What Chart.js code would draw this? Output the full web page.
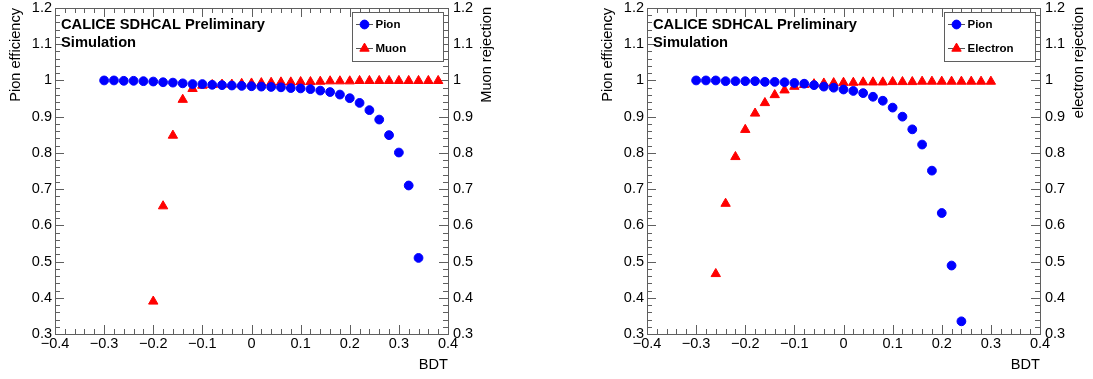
<!DOCTYPE html>
<html>
<head>
<meta charset="utf-8">
<script src="https://cdn.jsdelivr.net/npm/chart.js@4.4.0/dist/chart.umd.min.js"></script>
<style>
html,body{margin:0;padding:0;background:#fff;}
#wrap{position:relative;width:1093px;height:379px;overflow:hidden;background:#fff;}
#wrap canvas{position:absolute;top:0;}
</style>
</head>
<body>
<div id="wrap">
<canvas id="cL" width="501" height="379" style="left:0px"></canvas>
<canvas id="cR" width="501" height="379" style="left:592px"></canvas>
</div>
<script>
// ---------- DATA ----------
const xTickValues = [-0.4, -0.3, -0.2, -0.1, 0, 0.1, 0.2, 0.3, 0.4];
const xTickLabels = ['\u22120.4', '\u22120.3', '\u22120.2', '\u22120.1', '0', '0.1', '0.2', '0.3', '0.4'];
const yTickValues = [0.3, 0.4, 0.5, 0.6, 0.7, 0.8, 0.9, 1.0, 1.1, 1.2];
const yTickLabels = ['0.3', '0.4', '0.5', '0.6', '0.7', '0.8', '0.9', '1', '1.1', '1.2'];

// Left panel: pion vs muon
const bdtPionLeft = [-0.30,-0.28,-0.26,-0.24,-0.22,-0.20,-0.18,-0.16,-0.14,-0.12,-0.10,-0.08,-0.06,-0.04,-0.02,0.00,
                     0.02,0.04,0.06,0.08,0.10,0.12,0.14,0.16,0.18,0.20,0.22,0.24,0.26,0.28,0.30,0.32,0.34];
const pionEffLeft = [1.000,1.000,0.999,0.999,0.998,0.997,0.995,0.994,0.992,0.990,0.990,0.988,0.987,0.986,0.985,0.984,
                     0.983,0.982,0.981,0.979,0.978,0.976,0.972,0.968,0.961,0.951,0.938,0.918,0.892,0.849,0.801,0.710,0.510];
const bdtMuon = [-0.20,-0.18,-0.16,-0.14,-0.12,-0.10,-0.08,-0.06,-0.04,-0.02,0.00,0.02,0.04,0.06,0.08,
                 0.10,0.12,0.14,0.16,0.18,0.20,0.22,0.24,0.26,0.28,0.30,0.32,0.34,0.36,0.38];
const muonRejection = [0.390,0.653,0.848,0.947,0.977,0.986,0.988,0.989,0.989,0.991,0.992,0.993,0.994,0.995,0.995,
                       0.996,0.996,0.997,0.998,0.998,0.998,0.999,0.999,0.999,0.999,0.999,0.999,0.999,0.999,0.999];

// Right panel: pion vs electron
const bdtPionRight = [-0.30,-0.28,-0.26,-0.24,-0.22,-0.20,-0.18,-0.16,-0.14,-0.12,-0.10,-0.08,-0.06,-0.04,
                      -0.02,0.00,0.02,0.04,0.06,0.08,0.10,0.12,0.14,0.16,0.18,0.20,0.22,0.24];
const pionEffRight = [1.000,1.000,1.000,0.998,0.998,0.998,0.998,0.996,0.996,0.995,0.993,0.991,0.987,0.983,
                      0.980,0.975,0.971,0.965,0.955,0.944,0.925,0.900,0.865,0.823,0.751,0.634,0.489,0.335];
const bdtElectron = [-0.26,-0.24,-0.22,-0.20,-0.18,-0.16,-0.14,-0.12,-0.10,-0.08,-0.06,-0.04,-0.02,0.00,0.02,
                     0.04,0.06,0.08,0.10,0.12,0.14,0.16,0.18,0.20,0.22,0.24,0.26,0.28,0.30];
const electronRejection = [0.466,0.660,0.789,0.864,0.909,0.938,0.960,0.973,0.983,0.988,0.990,0.992,0.993,0.994,0.994,
                           0.995,0.995,0.995,0.996,0.996,0.996,0.997,0.997,0.997,0.997,0.997,0.997,0.997,0.997];

const leftTitleLines = ['CALICE SDHCAL Preliminary', 'Simulation'];
const rightTitleLines = ['CALICE SDHCAL Preliminary', 'Simulation'];

// ---------- STYLE ----------
const FONT = "'Liberation Sans', Arial, Helvetica, sans-serif";
const FRAME = '#5f5f5f';
const BLUE = '#0000ff';
const RED = '#ff0000';
Chart.defaults.font.family = FONT;
Chart.defaults.color = '#000';

function pts(xs, ys) { return xs.map((x, i) => ({x: x, y: ys[i]})); }

const rootFrame = {
  id: 'rootFrame',
  beforeDatasetsDraw(chart) {
    const {ctx, chartArea: a, scales} = chart;
    const xs = scales.x, ys = scales.y;
    ctx.save();
    ctx.strokeStyle = FRAME;
    ctx.lineWidth = 1;
    ctx.beginPath();
    for (let k = 0; k <= 40; k++) {
      const v = xs.min + k * 0.02;
      const px = Math.round(xs.getPixelForValue(v)) + 0.5;
      const len = (k % 5 === 0) ? 9 : 5;
      ctx.moveTo(px, a.bottom); ctx.lineTo(px, a.bottom - len);
      ctx.moveTo(px, a.top); ctx.lineTo(px, a.top + len);
    }
    for (let k = 0; k <= 45; k++) {
      const v = ys.min + k * 0.02;
      const py = Math.round(ys.getPixelForValue(v)) + 0.5;
      const len = (k % 5 === 0) ? 9 : 5;
      ctx.moveTo(a.left, py); ctx.lineTo(a.left + len, py);
      ctx.moveTo(a.right, py); ctx.lineTo(a.right - len, py);
    }
    ctx.stroke();
    ctx.strokeRect(a.left + 0.5, a.top + 0.5, a.right - a.left, a.bottom - a.top);
    ctx.restore();
  },
  afterDraw(chart, args, opts) {
    const {ctx, chartArea: a} = chart;
    ctx.save();
    ctx.fillStyle = '#000';
    ctx.font = 'bold 14.7px ' + FONT;
    ctx.textAlign = 'left';
    ctx.textBaseline = 'alphabetic';
    opts.titleLines.forEach((t, i) => ctx.fillText(t, a.left + 6, 28.5 + i * 18));
    ctx.font = '14.6px ' + FONT;
    ctx.textAlign = 'right';
    ctx.textBaseline = 'alphabetic';
    ctx.fillText(opts.xTitle, a.right, 369);
    ctx.textBaseline = 'middle';
    ctx.save(); ctx.translate(15.5, a.top); ctx.rotate(-Math.PI / 2);
    ctx.fillText(opts.yTitle, 0, 0); ctx.restore();
    ctx.save(); ctx.translate(a.right + 38.5, a.top - 1); ctx.rotate(-Math.PI / 2);
    ctx.fillText(opts.y2Title, 0, 0); ctx.restore();
    // legend
    const bx = 352, by = 12, bw = 91, bh = 49;
    ctx.fillStyle = '#fff';
    ctx.fillRect(bx, by, bw, bh);
    ctx.strokeStyle = FRAME;
    ctx.lineWidth = 1;
    ctx.strokeRect(bx + 0.5, by + 0.5, bw, bh);
    const rows = [by + 12.5, by + 36.5];
    chart.data.datasets.forEach((ds, i) => {
      const y = rows[i];
      ctx.strokeStyle = '#555';
      ctx.lineWidth = 1;
      ctx.beginPath(); ctx.moveTo(356, y); ctx.lineTo(373, y); ctx.stroke();
      ctx.fillStyle = ds.pointBackgroundColor;
      ctx.strokeStyle = ds.pointBorderColor;
      ctx.lineWidth = ds.pointBorderWidth;
      Chart.helpers.drawPoint(ctx, {pointStyle: ds.pointStyle, radius: ds.pointRadius, borderWidth: ds.pointBorderWidth, rotation: 0}, 364.5, y);
      ctx.fillStyle = '#000';
      ctx.font = 'bold 11.5px ' + FONT;
      ctx.textAlign = 'left';
      ctx.textBaseline = 'middle';
      ctx.fillText(ds.label, 375.5, y + 0.5);
    });
    ctx.restore();
  }
};

function makePanel(id, pionX, pionY, otherX, otherY, otherLabel, y2Title, titleLines) {
  const yScale = (pos, w, pad) => ({
    type: 'linear', position: pos, min: 0.3, max: 1.2,
    grid: {display: false, drawTicks: false}, border: {display: false},
    afterBuildTicks: s => { s.ticks = yTickValues.map(v => ({value: v})); },
    ticks: {autoSkip: false, padding: pad, font: {size: 14.5, family: FONT}, color: '#000',
            callback: (v, i) => yTickLabels[i]},
    afterFit: s => { s.width = w; s.paddingTop = 0; s.paddingBottom = 0; }
  });
  return new Chart(document.getElementById(id), {
    type: 'scatter',
    data: {
      datasets: [
        {label: 'Pion', data: pts(pionX, pionY), yAxisID: 'y', pointStyle: 'circle', pointRadius: 4.4,
         pointBackgroundColor: BLUE, pointBorderColor: BLUE, pointBorderWidth: 1, showLine: false},
        {label: otherLabel, data: pts(otherX, otherY), yAxisID: 'y2', pointStyle: 'triangle', pointRadius: 5.4,
         pointBackgroundColor: RED, pointBorderColor: RED, pointBorderWidth: 1, showLine: false}
      ]
    },
    options: {
      responsive: false, animation: false, devicePixelRatio: 1,
      layout: {padding: {top: 8, left: 0, right: 0, bottom: 0}, autoPadding: false},
      plugins: {legend: {display: false}, tooltip: {enabled: false},
                rootFrame: {titleLines: titleLines, xTitle: 'BDT', yTitle: 'Pion efficiency', y2Title: y2Title}},
      scales: {
        x: {
          type: 'linear', position: 'bottom', min: -0.4, max: 0.4,
          grid: {display: false, drawTicks: false}, border: {display: false},
          afterBuildTicks: s => { s.ticks = xTickValues.map(v => ({value: v})); },
          ticks: {autoSkip: false, maxRotation: 0, minRotation: 0, padding: 1,
                  font: {size: 14.5, family: FONT}, color: '#000', callback: (v, i) => xTickLabels[i]},
          afterFit: s => { s.height = 45; s.paddingLeft = 0; s.paddingRight = 0; }
        },
        y: yScale('left', 55, 3),
        y2: yScale('right', 53, 5)
      }
    },
    plugins: [rootFrame]
  });
}

makePanel('cL', bdtPionLeft, pionEffLeft, bdtMuon, muonRejection, 'Muon', 'Muon rejection', leftTitleLines);
makePanel('cR', bdtPionRight, pionEffRight, bdtElectron, electronRejection, 'Electron', 'electron rejection', rightTitleLines);
</script>
</body>
</html>
